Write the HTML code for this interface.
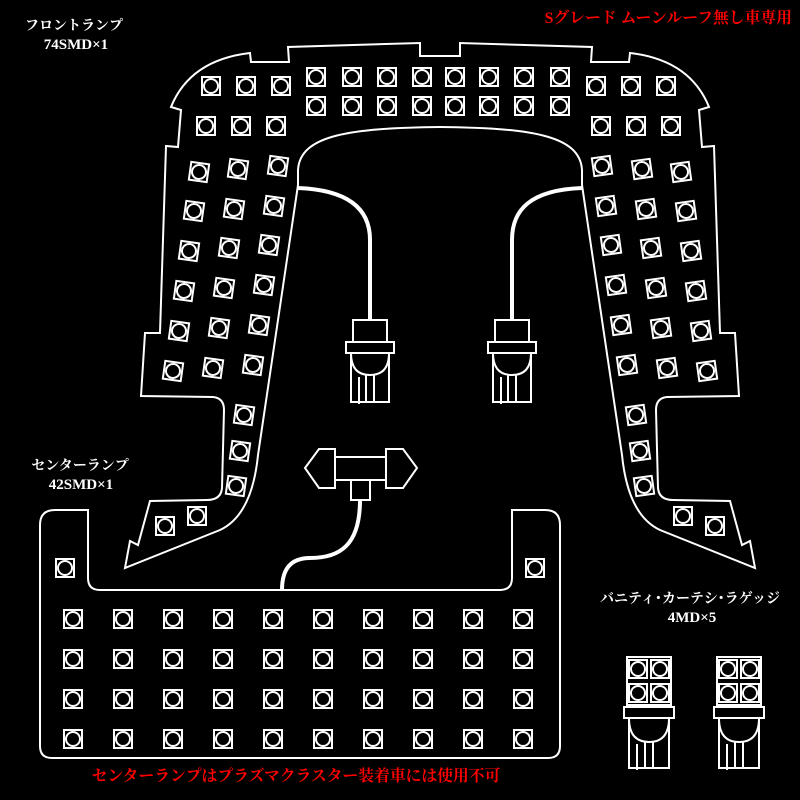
<!DOCTYPE html>
<html><head><meta charset="utf-8"><style>
html,body{margin:0;padding:0;background:#000;}
svg{display:block}
text{font-family:"Liberation Serif","Noto Serif CJK SC",serif;font-weight:bold;}
</style></head><body>
<svg width="800" height="800" viewBox="0 0 800 800" xmlns="http://www.w3.org/2000/svg">
<defs>
<g id="led"><rect x="-9" y="-9" width="18" height="18" fill="#000" stroke="#fff" stroke-width="2"/><circle r="7" fill="none" stroke="#fff" stroke-width="2"/></g>
<g id="half">
<path d="M440,56 L420,56 L420,43 L288,47 L289,62 L251,62 L250,53 Q190,60 171,107 L181,110 L178,147 L166,146 L160,333 L145,333 L141,396 L213,397 Q224,398 224,410 L222,488 Q221,500 207,500 L150,501 L138,545 L130,541 L125,568 L220,530 Q252,515 258,455 L298,185 L298,170 C300,135 350,128 440,127" fill="none" stroke="#fff" stroke-width="2"/>
</g>
<g id="bulb" fill="none" stroke="#fff" stroke-width="2">
<rect x="-17" y="0" width="34" height="22"/>
<rect x="-24" y="22" width="48" height="11"/>
<rect x="-19" y="33" width="38" height="49"/>
<path d="M-19,33 Q-19,55 0,55 Q19,55 19,33"/>
<line x1="-11" y1="57" x2="-11" y2="84"/><line x1="-4" y1="55" x2="-4" y2="82"/><line x1="4" y1="55" x2="4" y2="82"/>
</g>
<g id="small">
<rect x="-22" y="0" width="44" height="48" fill="#000" stroke="#fff" stroke-width="2"/>
<use href="#led" x="-11" y="12"/><use href="#led" x="11" y="12"/><use href="#led" x="-11" y="36"/><use href="#led" x="11" y="36"/>
<g fill="none" stroke="#fff" stroke-width="2">
<rect x="-25" y="50" width="50" height="11"/>
<rect x="-20" y="61" width="40" height="50"/>
<path d="M-20,61 Q-20,85 0,85 Q20,85 20,61"/>
<line x1="-12" y1="87" x2="-12" y2="113"/><line x1="-4" y1="85" x2="-4" y2="111"/><line x1="4" y1="85" x2="4" y2="111"/>
</g>
</g>
</defs>

<use href="#half"/>
<use href="#half" transform="translate(880,0) scale(-1,1)"/>

<g fill="none" stroke="#fff" stroke-width="4">
<path d="M298,188 C350,190 370,210 370,240 L370,320"/>
<path d="M582,188 C530,190 512,210 512,240 L512,320"/>
<path d="M360,500 C360,545 340,558 310,558 C290,558 282,570 282,590"/>
</g>
<use href="#bulb" x="370" y="320"/>
<use href="#bulb" x="512" y="320"/>

<g fill="#000" stroke="#fff" stroke-width="2">
<rect x="351" y="480" width="19" height="20"/>
<rect x="335" y="457" width="51" height="23"/>
<path d="M305,468 L319,449 L335,449 L335,488 L319,488 Z"/>
<path d="M417,468 L403,449 L386,449 L386,488 L403,488 Z"/>
</g>

<path d="M55,510 L88,510 L88,578 Q88,590 100,590 L500,590 Q512,590 512,578 L512,510 L545,510 Q560,510 560,525 L560,746 Q560,758 548,758 L52,758 Q40,758 40,746 L40,525 Q40,510 55,510 Z" fill="none" stroke="#fff" stroke-width="2"/>
<use href="#led" x="65" y="568"/><use href="#led" x="535" y="568"/>
<g id="crow">
<use href="#led" x="73" y="619"/><use href="#led" x="123" y="619"/><use href="#led" x="173" y="619"/><use href="#led" x="223" y="619"/><use href="#led" x="273" y="619"/><use href="#led" x="323" y="619"/><use href="#led" x="373" y="619"/><use href="#led" x="423" y="619"/><use href="#led" x="473" y="619"/><use href="#led" x="523" y="619"/>
</g>
<use href="#crow" y="40"/><use href="#crow" y="80"/><use href="#crow" y="120"/>

<g id="trow">
<use href="#led" x="316" y="77"/><use href="#led" x="352" y="77"/><use href="#led" x="387" y="77"/><use href="#led" x="422" y="77"/><use href="#led" x="455" y="77"/><use href="#led" x="489" y="77"/><use href="#led" x="524" y="77"/><use href="#led" x="560" y="77"/>
</g>
<use href="#trow" y="29"/>
<use href="#led" x="211" y="86"/><use href="#led" x="246" y="86"/><use href="#led" x="281" y="86"/>
<use href="#led" x="596" y="86"/><use href="#led" x="631" y="86"/><use href="#led" x="666" y="86"/>
<use href="#led" x="206" y="126"/><use href="#led" x="241" y="126"/><use href="#led" x="276" y="126"/>
<use href="#led" x="601" y="126"/><use href="#led" x="636" y="126"/><use href="#led" x="671" y="126"/>

<g id="lrot">
<use href="#led" transform="translate(199,172) rotate(8)"/><use href="#led" transform="translate(238,169) rotate(8)"/><use href="#led" transform="translate(278,166) rotate(8)"/>
<use href="#led" transform="translate(194,211) rotate(8)"/><use href="#led" transform="translate(234,209) rotate(8)"/><use href="#led" transform="translate(274,206) rotate(8)"/>
<use href="#led" transform="translate(189,251) rotate(8)"/><use href="#led" transform="translate(229,248) rotate(8)"/><use href="#led" transform="translate(269,245) rotate(8)"/>
<use href="#led" transform="translate(184,291) rotate(8)"/><use href="#led" transform="translate(224,288) rotate(8)"/><use href="#led" transform="translate(264,285) rotate(8)"/>
<use href="#led" transform="translate(179,331) rotate(8)"/><use href="#led" transform="translate(219,328) rotate(8)"/><use href="#led" transform="translate(259,325) rotate(8)"/>
<use href="#led" transform="translate(173,371) rotate(8)"/><use href="#led" transform="translate(213,368) rotate(8)"/><use href="#led" transform="translate(253,365) rotate(8)"/>
<use href="#led" transform="translate(244,415) rotate(8)"/><use href="#led" transform="translate(240,451) rotate(8)"/><use href="#led" transform="translate(236,486) rotate(8)"/>
<use href="#led" x="165" y="526"/><use href="#led" x="197" y="516"/>
</g>
<use href="#lrot" transform="translate(880,0) scale(-1,1)"/>

<use href="#small" x="649" y="657"/>
<use href="#small" x="739" y="657"/>

<g font-size="14" fill="#fff" text-anchor="middle">
<text x="74" y="30">フロントランプ</text>
<text x="76" y="49" font-size="15">74SMD×1</text>
<text x="80" y="470">センターランプ</text>
<text x="81" y="489" font-size="15">42SMD×1</text>
<text x="690" y="603">バニティ･カーテシ･ラゲッジ</text>
<text x="692" y="622" font-size="15">4MD×5</text>
</g>
<g font-size="15.8" fill="#ff0000">
<text x="792" y="23" text-anchor="end">Sグレード ムーンルーフ無し車専用</text>
<text x="296" y="781" text-anchor="middle">センターランプはプラズマクラスター装着車には使用不可</text>
</g>
</svg>
</body></html>
